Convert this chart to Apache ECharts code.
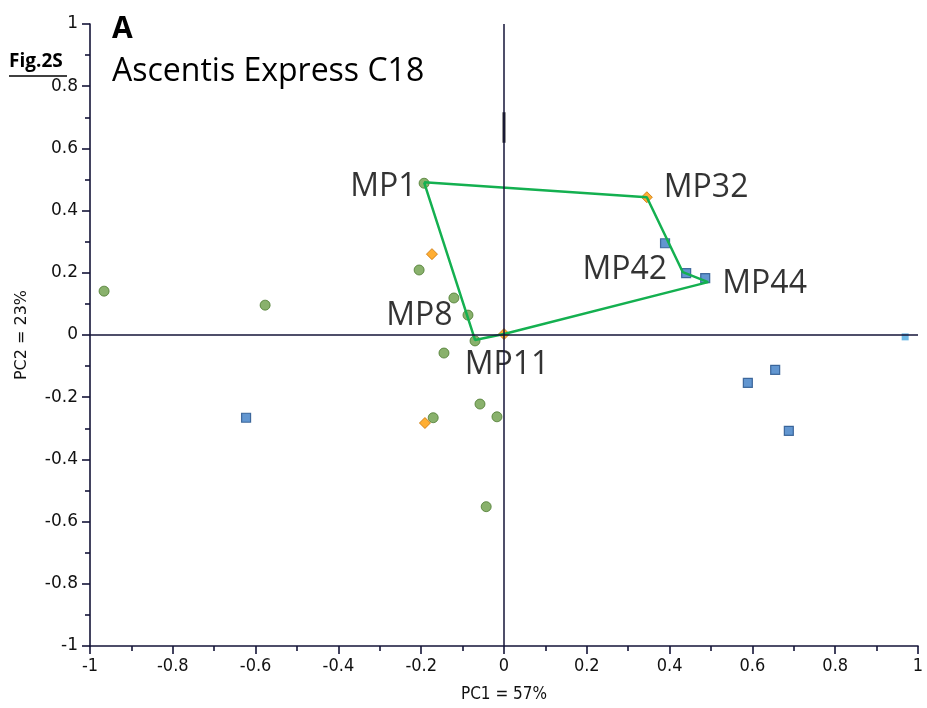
<!DOCTYPE html>
<html>
<head>
<meta charset="utf-8">
<style>
  html, body { margin: 0; padding: 0; background: #fff; }
  #chart { width: 927px; height: 708px; }
</style>
<script src="https://cdn.jsdelivr.net/npm/echarts@6/dist/echarts.min.js"></script>
</head>
<body>
<div id="chart"></div>
<script>
// PCA score plot, Ascentis Express C18 (PC1 vs PC2)
const xTickLabels = ['-1', '-0.8', '-0.6', '-0.4', '-0.2', '0', '0.2', '0.4', '0.6', '0.8', '1'];
const yTickLabels = ['-1', '-0.8', '-0.6', '-0.4', '-0.2', '0', '0.2', '0.4', '0.6', '0.8', '1'];

// [PC1, PC2, name]
const greenPoints = [
  [-0.966, 0.141, ''],
  [-0.577, 0.096, ''],
  [-0.193, 0.488, 'MP1'],
  [-0.205, 0.209, ''],
  [-0.121, 0.119, ''],
  [-0.087, 0.064, 'MP8'],
  [-0.070, -0.019, 'MP11'],
  [-0.145, -0.058, ''],
  [-0.171, -0.266, ''],
  [-0.058, -0.222, ''],
  [-0.017, -0.263, ''],
  [-0.043, -0.552, '']
];
const orangePoints = [
  [-0.174, 0.260, ''],
  [0.345, 0.443, 'MP32'],
  [-0.191, -0.283, ''],
  [0.000, 0.003, '']
];
const bluePoints = [
  [-0.623, -0.266, ''],
  [0.389, 0.295, ''],
  [0.440, 0.199, 'MP42'],
  [0.486, 0.183, 'MP44'],
  [0.589, -0.154, ''],
  [0.655, -0.112, ''],
  [0.688, -0.308, '']
];
const lightBluePoints = [
  [0.969, -0.006, '']
];
// outline joining the marked compounds
const outline = [
  [-0.193, 0.491],
  [0.345, 0.443],
  [0.432, 0.202],
  [0.493, 0.170],
  [0.000, 0.003],
  [-0.070, -0.016],
  [-0.193, 0.491]
];
const axisMark = [[0, 0.618], [0, 0.716]];

const labelFont = 'Open Sans';
const labelStyles = {
  'MP1':  { position: 'left',   distance: 2,  offset: [0, 4] },
  'MP8':  { position: 'left',   distance: 10, offset: [0, 1] },
  'MP11': { position: 'bottom', distance: 2,  offset: [32, 0] },
  'MP32': { position: 'right',  distance: 11, offset: [0, -9] },
  'MP42': { position: 'left',   distance: 14, offset: [0, -3] },
  'MP44': { position: 'right',  distance: 12, offset: [0, 6] }
};

function toItems(points) {
  return points.map(p => {
    const item = { value: [p[0], p[1]], name: p[2] };
    if (p[2] && labelStyles[p[2]]) {
      const s = labelStyles[p[2]];
      item.label = {
        show: true,
        formatter: '{b}',
        position: s.position,
        distance: s.distance,
        offset: s.offset,
        fontFamily: labelFont,
        fontSize: 32,
        color: '#000'
      };
    }
    return item;
  });
}

function tickFormatter(labels) {
  return function (v) {
    const i = Math.round((v + 1) / 0.2);
    return labels[i] !== undefined ? labels[i] : '';
  };
}

const axisColor = '#141438';

const chart = echarts.init(document.getElementById('chart'), null, { renderer: 'canvas' });
chart.setOption({
  animation: false,
  backgroundColor: '#fff',
  title: [
    { text: 'A', left: 107, top: 9, textStyle: { fontFamily: labelFont, fontWeight: 'bold', fontSize: 30, color: '#000' } },
    { text: 'Ascentis Express C18', left: 107, top: 51, textStyle: { fontFamily: labelFont, fontWeight: 'normal', fontSize: 32, color: '#000' } }
  ],
  graphic: [
    { type: 'text', left: 9, top: 52, style: { text: 'Fig.2S', font: 'bold 19px "Open Sans"', fill: '#000' } },
    { type: 'line', shape: { x1: 9, y1: 76, x2: 67, y2: 76 }, style: { stroke: '#000', lineWidth: 1.5 } }
  ],
  grid: { left: 90, right: 9, top: 24, bottom: 61, containLabel: false },
  xAxis: {
    type: 'value', min: -1, max: 1, interval: 0.2,
    name: 'PC1 = 57%', nameLocation: 'middle', nameGap: 40,
    nameTextStyle: { fontFamily: 'DejaVu Sans Condensed', fontSize: 17, color: '#111' },
    axisLine: { show: true, onZero: false, lineStyle: { color: axisColor, width: 1.6 } },
    axisTick: { show: true, inside: false, length: 8, lineStyle: { color: axisColor, width: 1.6 } },
    minorTick: { show: true, splitNumber: 2, length: 5, lineStyle: { color: axisColor, width: 1.6 } },
    axisLabel: { formatter: tickFormatter(xTickLabels), margin: 11, fontFamily: 'DejaVu Sans Condensed', fontSize: 18, color: '#111' },
    splitLine: { show: false }
  },
  yAxis: {
    type: 'value', min: -1, max: 1, interval: 0.2,
    name: 'PC2 = 23%', nameLocation: 'middle', nameGap: 60,
    nameTextStyle: { fontFamily: 'DejaVu Sans', fontSize: 16, color: '#111' },
    axisLine: { show: true, onZero: false, lineStyle: { color: axisColor, width: 1.6 } },
    axisTick: { show: true, inside: false, length: 8, lineStyle: { color: axisColor, width: 1.6 } },
    minorTick: { show: true, splitNumber: 2, length: 5, lineStyle: { color: axisColor, width: 1.6 } },
    axisLabel: { formatter: tickFormatter(yTickLabels), margin: 12, fontFamily: 'DejaVu Sans', fontSize: 17, color: '#111' },
    splitLine: { show: false }
  },
  series: [
    {
      type: 'scatter', z: 1, symbol: 'rect', symbolSize: 7,
      itemStyle: { color: '#4aa8e0' },
      data: toItems(lightBluePoints)
    },
    {
      type: 'line', z: 2, data: axisMark, symbol: 'none',
      lineStyle: { color: '#2a2a2a', width: 3 },
      markLine: {
        silent: true, symbol: 'none', animation: false,
        label: { show: false },
        lineStyle: { color: axisColor, width: 1.5, type: 'solid' },
        data: [{ xAxis: 0 }, { yAxis: 0 }]
      }
    },
    {
      type: 'scatter', z: 3, symbol: 'circle', symbolSize: 10,
      itemStyle: { color: '#6b9e47', borderColor: '#4c7a30', borderWidth: 1 },
      data: toItems(greenPoints)
    },
    {
      type: 'scatter', z: 3, symbol: 'diamond', symbolSize: 11,
      itemStyle: { color: '#ff9a00', borderColor: '#c87000', borderWidth: 1 },
      data: toItems(orangePoints)
    },
    {
      type: 'scatter', z: 3, symbol: 'rect', symbolSize: 9,
      itemStyle: { color: '#3b7cc4', borderColor: '#22508a', borderWidth: 1.2 },
      data: toItems(bluePoints)
    },
    {
      type: 'line', z: 4, data: outline, symbol: 'none',
      lineStyle: { color: '#14b050', width: 2.5 }
    }
  ]
});
</script>
</body>
</html>
